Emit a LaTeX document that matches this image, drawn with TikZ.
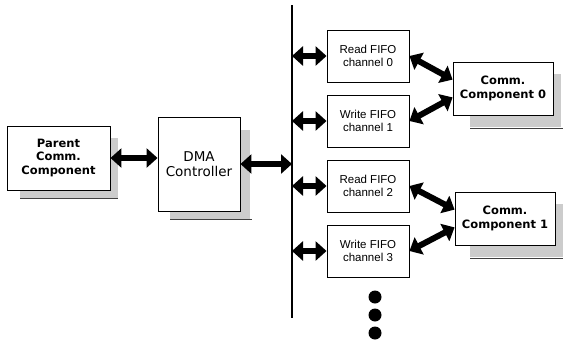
\documentclass[tikz,border=0pt]{standalone}
\usepackage{fontspec}
\setmainfont{DejaVu Sans}
\newfontfamily\fifofont{Liberation Sans}
\usetikzlibrary{arrows.meta,calc}
\begin{document}
\begin{tikzpicture}[x=1pt,y=-1pt,
  box/.style={draw=black,line width=0.9pt,fill=white,minimum width=#1,inner sep=0pt,align=center},
  shadowfill/.style={fill=black!20},
  shadowline/.style={line width=1pt,black!75},
  biarrow/.style={line width=6pt,{Triangle[width=19pt,length=11pt]}-{Triangle[width=19pt,length=11pt]}},
  boldlbl/.style={font=\fontsize{11.5}{13.5}\selectfont\bfseries},
  dmalbl/.style={font=\fontsize{13.5}{15.5}\selectfont},
  fifolbl/.style={font=\fifofont\fontsize{11.5}{13.5}\selectfont},
  dot/.style={circle,fill=black,minimum size=13pt,inner sep=0pt}]
\useasboundingbox (0,0) rectangle (563,343);
% shadows
\fill[shadowfill] (110,138) rectangle (118,198);
\fill[shadowfill] (20,190) rectangle (118,198);
\draw[shadowline] (20,198) -- (118,198);
\fill[shadowfill] (240,130) rectangle (250,219);
\fill[shadowfill] (170,211) rectangle (250,219);
\draw[shadowline] (170,219) -- (252,219);
\fill[shadowfill] (553,74) rectangle (561,127);
\fill[shadowfill] (470,115) rectangle (561,127);
\draw[shadowline] (470,128) -- (563,128);
\fill[shadowfill] (555,204) rectangle (563,257);
\fill[shadowfill] (470,245) rectangle (563,257);
\draw[shadowline] (470,258) -- (563,258);
% boxes
\node[box=103pt,minimum height=64pt,boldlbl] (parent) at (58.5,158) {Parent\\Comm.\\Component};
\node[box=82pt,minimum height=94pt,dmalbl] (dma) at (199,164) {DMA\\Controller};
\node[box=82pt,minimum height=52pt,fifolbl] (f0) at (368,56) {Read FIFO\\channel 0};
\node[box=82pt,minimum height=52pt,fifolbl] (f1) at (368,121) {Write FIFO\\channel 1};
\node[box=82pt,minimum height=52pt,fifolbl] (f2) at (368,186) {Read FIFO\\channel 2};
\node[box=82pt,minimum height=52pt,fifolbl] (f3) at (368,251) {Write FIFO\\channel 3};
\node[box=100pt,minimum height=53pt,boldlbl] (c0) at (503,88.5) {Comm.\\Component 0};
\node[box=100pt,minimum height=53pt,boldlbl] (c1) at (505,218.5) {Comm.\\Component 1};
% bus
\coordinate (bustop) at (292,5);
\coordinate (busbot) at (292,318);
\draw[line width=2.8pt] (bustop) -- (busbot);
% arrows
\draw[biarrow] (parent.east) -- (parent.east -| dma.west);
\draw[biarrow] (dma.east) -- (dma.east -| bustop);
\foreach \f in {f0,f1,f2,f3}
  \draw[biarrow] (\f.west -| bustop) -- (\f.west);
\draw[biarrow] (f0.east) -- (c0.170);
\draw[biarrow] (f1.east) -- (c0.190);
\draw[biarrow] (f2.east) -- (c1.170);
\draw[biarrow] (f3.east) -- (c1.190);
% dots
\node[dot] (d1) at (375,297) {};
\node[dot] (d2) at (375,315) {};
\node[dot] (d3) at (375,333) {};
\end{tikzpicture}
\end{document}
